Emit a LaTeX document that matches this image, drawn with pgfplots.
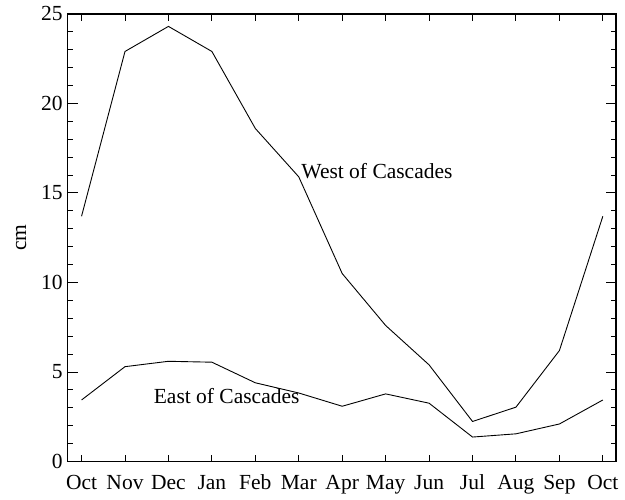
\documentclass[border=0pt]{standalone}
\usepackage{pgfplots}
\pgfplotsset{compat=1.18}
\usepackage{fontspec}
\setmainfont{Liberation Serif}
\begin{document}
\begin{tikzpicture}
\begin{axis}[
  name=ax,
  scale only axis,
  width=275.5pt, height=225pt,
  xmin=-0.32, xmax=12.3,
  ymin=0, ymax=25,
  xtick={0,...,12},
  xticklabels={Oct,Nov,Dec,Jan,Feb,Mar,Apr,May,Jun,Jul,Aug,Sep,Oct},
  ytick={0,5,10,15,20,25},
  minor y tick num=4,
  tick align=inside,
  major tick length=5pt,
  minor tick length=2.5pt,
  xtick style={/pgfplots/major tick length=3.5pt},
  axis line style={line width=0.8pt},
  every tick/.style={black, line width=0.5pt},
  /pgf/number format/assume math mode=true,
  tick label style={font=\fontsize{10.8}{13}\selectfont},
  yticklabel style={xshift=1pt},
  xticklabel style={yshift=-3pt, text height=1.6ex, text depth=0.45ex},
  ylabel={cm},
  ylabel style={font=\fontsize{10.8}{13}\selectfont, at={(axis description cs:-0.085,0.5)}, anchor=center},
]
\addplot[black, line width=0.45pt] coordinates {
(0,13.7) (1,22.9) (2,24.3) (3,22.9) (4,18.6) (5,15.9) (6,10.5) (7,7.6) (8,5.4) (9,2.24) (10,3.04) (11,6.2) (12,13.7)
};
\addplot[black, line width=0.45pt] coordinates {
(0,3.44) (1,5.3) (2,5.6) (3,5.55) (4,4.4) (5,3.83) (6,3.09) (7,3.78) (8,3.26) (9,1.37) (10,1.55) (11,2.1) (12,3.44)
};
\node[font=\fontsize{10.8}{13}\selectfont] at (axis cs:6.8,16.2) {West of Cascades};
\node[font=\fontsize{10.8}{13}\selectfont] at (axis cs:3.34,3.67) {East of Cascades};
\end{axis}
\path (ax.south west) ++(-34pt,-16pt) coordinate (bl);
\path (ax.north east) ++(3pt,6.5pt) coordinate (tr);
\useasboundingbox (bl) rectangle (tr);
\end{tikzpicture}
\end{document}
